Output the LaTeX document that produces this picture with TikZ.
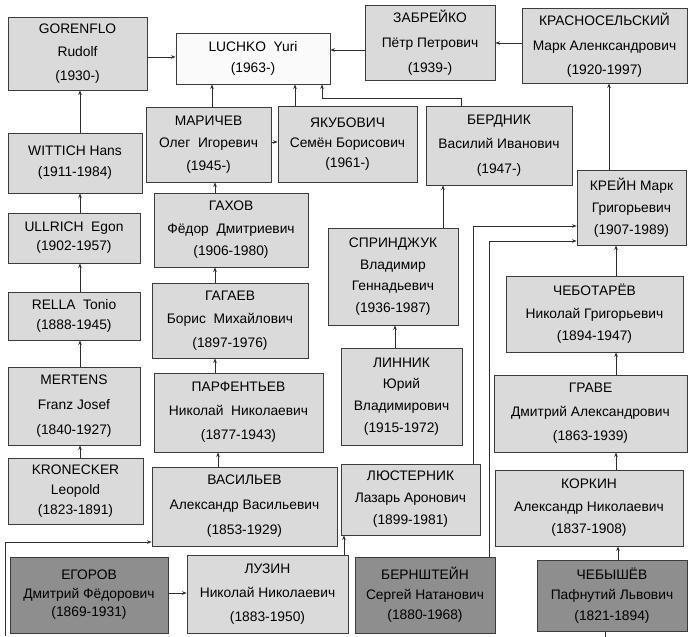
\documentclass[tikz,border=0pt]{standalone}
\usepackage{fontspec}
\setmainfont{Liberation Sans}
\usetikzlibrary{arrows.meta}
\definecolor{boxfill}{HTML}{DADADA}
\definecolor{darkfill}{HTML}{8E8E8E}
\definecolor{luchfill}{HTML}{FAFAFA}
\definecolor{edgecol}{HTML}{3C3C3C}
\definecolor{wire}{HTML}{2E2E2E}
\newcommand{\lsp}[1]{\fontsize{13.8}{#1}\selectfont}
\begin{document}
\begin{tikzpicture}[x=1pt,y=-1pt,
 pbox/.style={draw=edgecol, line width=0.9pt, fill=boxfill, align=center, inner sep=0pt, text=black},
 dbox/.style={pbox, fill=darkfill},
 wbox/.style={pbox, fill=luchfill},
 arr/.style={draw=wire, line width=0.8pt, -{Stealth[length=4.5pt,width=3.5pt]}},
 ln/.style={draw=wire, line width=0.8pt}]
\useasboundingbox[fill=white] (0,0) rectangle (688,637);

% nodes
\node[pbox, minimum width=139, minimum height=73, font=\lsp{23.5}] (gor) at (77.5,53.5) {GORENFLO\\Rudolf\\(1930-)};
\node[wbox, minimum width=154, minimum height=51, font=\lsp{21}] (luc) at (253,58.5) {LUCHKO\ \ Yuri\\(1963-)};
\node[pbox, minimum width=130, minimum height=75, font=\lsp{25}] (zab) at (430,42.5) {ЗАБРЕЙКО\\Пётр Петрович\\(1939-)};
\node[pbox, minimum width=165, minimum height=75, font=\lsp{24.5}] (kra) at (604.5,45.5) {КРАСНОСЕЛЬСКИЙ\\Марк Аленксандрович\\(1920-1997)};
\node[pbox, minimum width=134, minimum height=60, font=\lsp{21}] (wit) at (75,163) {WITTICH Hans\\(1911-1984)};
\node[pbox, minimum width=125, minimum height=75, font=\lsp{22.5}] (mar) at (208.5,144.5) {МАРИЧЕВ\\Олег\ \ Игоревич\\(1945-)};
\node[pbox, minimum width=139, minimum height=76, font=\lsp{20}] (yak) at (347.5,144) {ЯКУБОВИЧ\\Семён Борисович\\(1961-)};
\node[pbox, minimum width=146, minimum height=79, font=\lsp{24.5}] (ber) at (499,145.5) {БЕРДНИК\\Василий Иванович\\(1947-)};
\node[pbox, minimum width=109, minimum height=75, font=\lsp{22}] (kre) at (631.5,207.5) {КРЕЙН Марк\\Григорьевич\\(1907-1989)};
\node[pbox, minimum width=154, minimum height=74, font=\lsp{22.5}] (gax) at (231,230) {ГАХОВ\\Фёдор\ \ Дмитриевич\\(1906-1980)};
\node[pbox, minimum width=132, minimum height=50, font=\lsp{19}] (ull) at (74,238) {ULLRICH\ \ Egon\\(1902-1957)};
\node[pbox, minimum width=130, minimum height=97, font=\lsp{21.7}] (spr) at (393,276.5) {СПРИНДЖУК\\Владимир\\Геннадьевич\\(1936-1987)};
\node[pbox, minimum width=132, minimum height=48, font=\lsp{20}] (rel) at (74,316) {RELLA\ \ Tonio\\(1888-1945)};
\node[pbox, minimum width=156, minimum height=75, font=\lsp{23.5}] (gag) at (230,320.5) {ГАГАЕВ\\Борис\ \ Михайлович\\(1897-1976)};
\node[pbox, minimum width=177, minimum height=76, font=\lsp{22.5}] (che) at (594.5,314) {ЧЕБОТАРЁВ\\Николай Григорьевич\\(1894-1947)};
\node[pbox, minimum width=132, minimum height=78, font=\lsp{25}] (mer) at (74,406) {MERTENS\\Franz Josef\\(1840-1927)};
\node[pbox, minimum width=169, minimum height=79, font=\lsp{24}] (par) at (238.5,412.5) {ПАРФЕНТЬЕВ\\Николай\ \ Николаевич\\(1877-1943)};
\node[pbox, minimum width=121, minimum height=97, font=\lsp{21.7}] (lin) at (401.5,396.5) {ЛИННИК\\Юрий\\Владимирович\\(1915-1972)};
\node[pbox, minimum width=193, minimum height=77, font=\lsp{24}] (gra) at (590.5,413.5) {ГРАВЕ\\Дмитрий Александрович\\(1863-1939)};
\node[pbox, minimum width=135, minimum height=66, font=\lsp{20}] (kro) at (75.5,491) {KRONECKER\\Leopold\\(1823-1891)};
\node[pbox, minimum width=185, minimum height=79, font=\lsp{25}] (vas) at (244.5,506.5) {ВАСИЛЬЕВ\\Александр Васильевич\\(1853-1929)};
\node[pbox, minimum width=139, minimum height=71, font=\lsp{22}] (lus) at (410.5,499.5) {ЛЮСТЕРНИК\\Лазарь Аронович\\(1899-1981)};
\node[pbox, minimum width=188, minimum height=76, font=\lsp{22.5}] (kor) at (589,508) {КОРКИН\\Александр Николаевич\\(1837-1908)};
\node[dbox, minimum width=158, minimum height=76, font=\lsp{18.5}] (ego) at (89,595) {ЕГОРОВ\\Дмитрий Фёдорович\\(1869-1931)};
\node[pbox, minimum width=161, minimum height=78, font=\lsp{24}] (luz) at (267.5,594) {ЛУЗИН\\Николай Николаевич\\(1883-1950)};
\node[dbox, minimum width=140, minimum height=76, font=\lsp{20}] (bern) at (425,595) {БЕРНШТЕЙН\\Сергей Натанович\\(1880-1968)};
\node[dbox, minimum width=150, minimum height=71, font=\lsp{20.5}] (cheb) at (612,595.5) {ЧЕБЫШЁВ\\Пафнутий Львович\\(1821-1894)};

% helper coordinates
\coordinate (xa) at (80,0);  \coordinate (xb) at (212,0); \coordinate (xc) at (295,0);
\coordinate (xd) at (322,0); \coordinate (xe) at (461,0); \coordinate (xf) at (215,0);
\coordinate (xg) at (218,0); \coordinate (xh) at (344,0); \coordinate (xi) at (395,0);
\coordinate (xj) at (443,0); \coordinate (xk) at (473,0); \coordinate (xl) at (489,0);
\coordinate (xm) at (609,0); \coordinate (xn) at (616,0); \coordinate (xo) at (618,0);
\coordinate (xp) at (605,0);
\coordinate (ya) at (0,57);  \coordinate (yb) at (0,50);  \coordinate (yc) at (0,43);
\coordinate (yd) at (0,142); \coordinate (ye) at (0,593); \coordinate (yf) at (0,542);
\coordinate (yg) at (0,226); \coordinate (yh) at (0,241);
\coordinate (egoT) at (5,636);
\coordinate (stub) at (605,637);

% connectors
\draw[arr] (gor.east |- ya) -- (luc.west |- ya);
\draw[arr] (zab.west |- yb) -- (luc.east |- yb);
\draw[arr] (kra.west |- yc) -- (zab.east |- yc);
\draw[arr] (wit.north -| xa) -- (gor.south -| xa);
\draw[arr] (ull.north -| xa) -- (wit.south -| xa);
\draw[arr] (rel.north -| xa) -- (ull.south -| xa);
\draw[arr] (mer.north -| xa) -- (rel.south -| xa);
\draw[arr] (kro.north -| xa) -- (mer.south -| xa);
\draw[arr] (mar.north -| xb) -- (luc.south -| xb);
\draw[arr] (yak.north -| xc) -- (luc.south -| xc);
\draw[arr] (mar.east |- yd) -- (yak.west |- yd);
\draw[arr] (ber.north -| xe) -- ++(0,-7) -| (luc.south -| xd);
\draw[arr] (gax.north -| xf) -- (mar.south -| xf);
\draw[arr] (gag.north -| xf) -- (gax.south -| xf);
\draw[arr] (par.north -| xf) -- (gag.south -| xf);
\draw[arr] (vas.north -| xg) -- (par.south -| xg);
\draw[arr] (ego.east |- ye) -- (luz.west |- ye);
\draw[arr] (egoT) |- (vas.west |- yf);
\draw[arr] (luz.north -| xh) -- (lus.south -| xh);
\draw[arr] (lin.north -| xi) -- (spr.south -| xi);
\draw[arr] (spr.north -| xj) -- (ber.south -| xj);
\draw[arr] (lus.north -| xk) |- (kre.west |- yg);
\draw[arr] (bern.north -| xl) |- (kre.west |- yh);
\draw[arr] (kre.north -| xm) -- (kra.south -| xm);
\draw[arr] (che.north -| xn) -- (kre.south -| xn);
\draw[arr] (gra.north -| xn) -- (che.south -| xn);
\draw[arr] (kor.north -| xn) -- (gra.south -| xn);
\draw[arr] (cheb.north -| xo) -- (kor.south -| xo);
\draw[ln] (cheb.south -| xp) -- (stub);
\end{tikzpicture}
\end{document}
